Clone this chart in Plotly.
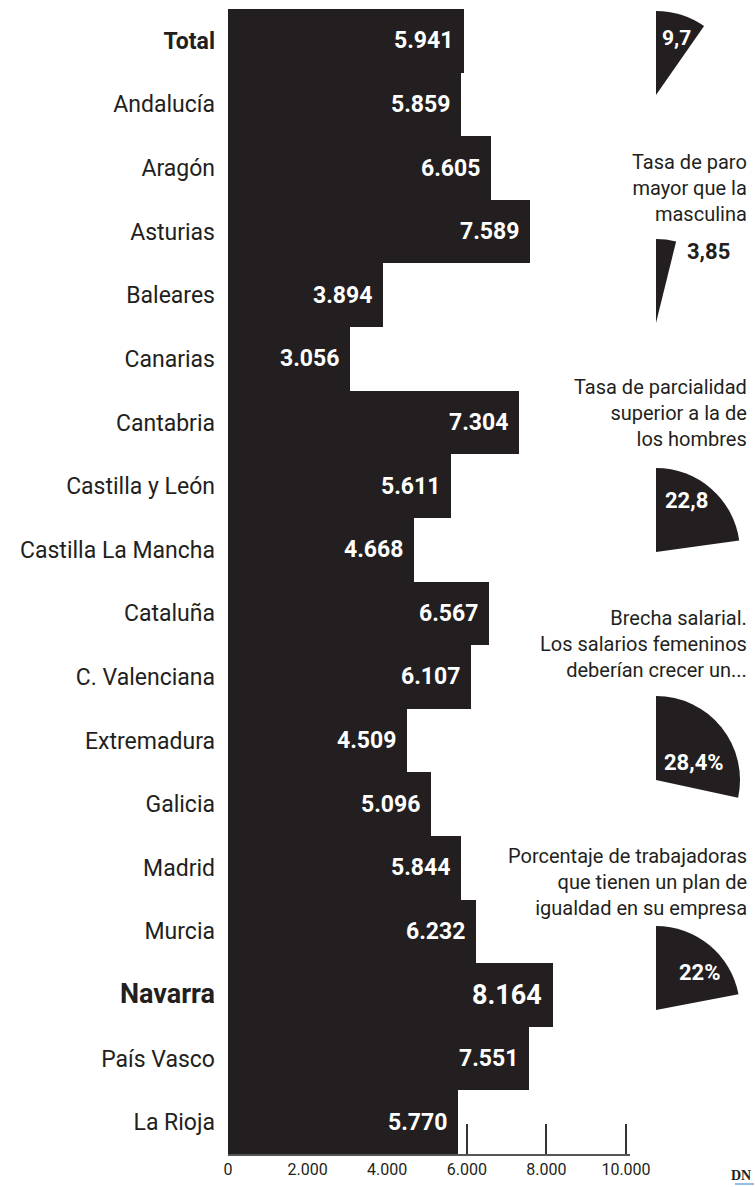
import plotly.graph_objects as go

# ---- data ----
categories = ["Total", "Andalucía", "Aragón", "Asturias", "Baleares", "Canarias",
              "Cantabria", "Castilla y León", "Castilla La Mancha", "Cataluña",
              "C. Valenciana", "Extremadura", "Galicia", "Madrid", "Murcia",
              "Navarra", "País Vasco", "La Rioja"]
values = [5941, 5859, 6605, 7589, 3894, 3056, 7304, 5611, 4668, 6567,
          6107, 4509, 5096, 5844, 6232, 8164, 7551, 5770]
x_ticks = [0, 2000, 4000, 6000, 8000, 10000]
x_ticktext = ["0", "2.000", "4.000", "6.000", "8.000", "10.000"]

pie_values = [9.7, 3.85, 22.8, 28.4, 22.0]
pie_labels = ["9,7", "3,85", "22,8", "28,4%", "22%"]
pie_titles = ["",
              "Tasa de paro<br>mayor que la<br>masculina",
              "Tasa de parcialidad<br>superior a la de<br>los hombres",
              "Brecha salarial.<br>Los salarios femeninos<br>deberían crecer un...",
              "Porcentaje de trabajadoras<br>que tienen un plan de<br>igualdad en su empresa"]

# ---- style / geometry ----
W, H = 755, 1187
INK = "#231f20"
FONT = "Roboto"
highlight = {"Total": 23, "Navarra": 27}

def px_x(p):
    return p / W

def px_y(p):
    return (H - p) / H

fig = go.Figure()

fig.add_trace(go.Bar(
    x=values, y=categories, orientation="h",
    marker=dict(color=INK, line=dict(width=0)),
    width=1.0, showlegend=False, hoverinfo="skip",
))

# value labels inside bars
annotations = []
for c, v in zip(categories, values):
    big = c == "Navarra"
    annotations.append(dict(
        x=v, y=c, xref="x", yref="y", xanchor="right", yanchor="middle",
        xshift=-9, showarrow=False,
        text="<b>" + f"{v:,}".replace(",", ".") + "</b>",
        font=dict(family=FONT, size=27 if big else 23, color="white"),
    ))

ticktext = []
for c in categories:
    if c in highlight:
        ticktext.append(f"<b><span style='font-size:{highlight[c]}px'>{c}</span></b>")
    else:
        ticktext.append(c)

# pie wedges
pie_centers_y = [95, 323, 552, 780, 1010]
pie_cx = 656
R = 84
for v, cy in zip(pie_values, pie_centers_y):
    fig.add_trace(go.Pie(
        values=[v, 100 - v], sort=False, direction="clockwise", rotation=0,
        marker=dict(colors=[INK, "rgba(0,0,0,0)"], line=dict(width=0)),
        textinfo="none", hoverinfo="skip", showlegend=False,
        domain=dict(x=[px_x(pie_cx - R), px_x(pie_cx + R)],
                    y=[px_y(cy + R), px_y(cy - R)]),
    ))

# pie labels
pie_label_pos = [(676, 38), (708, 252), (686, 500), (694, 762), (700, 973)]
pie_label_col = ["white", INK, "white", "white", "white"]
pie_label_size = [21, 22, 22, 22, 22]
for t, (lx, ly), col, sz in zip(pie_labels, pie_label_pos, pie_label_col, pie_label_size):
    annotations.append(dict(
        x=px_x(lx), y=px_y(ly), xref="paper", yref="paper",
        xanchor="center", yanchor="middle", showarrow=False,
        text=f"<b>{t}</b>", font=dict(family=FONT, size=sz, color=col),
    ))

# pie titles
title_mid_y = [None, 188, 413, 644, 882]
for t, my in zip(pie_titles, title_mid_y):
    if not t:
        continue
    annotations.append(dict(
        x=px_x(749), y=px_y(my), xref="paper", yref="paper",
        xanchor="right", yanchor="middle", align="right", showarrow=False,
        text=t, font=dict(family=FONT, size=20, color=INK),
    ))

# source mark
annotations.append(dict(
    x=px_x(753), y=px_y(1175), xref="paper", yref="paper",
    xanchor="right", yanchor="middle", showarrow=False,
    text="<b>DN</b>", font=dict(family="Liberation Serif", size=14, color=INK),
))

X_MAX = 10100
fig.update_layout(
    width=W, height=H, template="none",
    margin=dict(l=0, r=0, t=0, b=0),
    paper_bgcolor="white", plot_bgcolor="white",
    bargap=0, annotations=annotations,
    font=dict(family=FONT, color=INK),
    xaxis=dict(
        domain=[px_x(228), px_x(228 + 398 * X_MAX / 10000)], range=[0, X_MAX],
        tickvals=x_ticks, ticktext=x_ticktext,
        ticks="inside", ticklen=30, tickwidth=1.5, tickcolor="#333333",
        showline=True, linecolor="#555555", linewidth=1.5,
        showgrid=False, zeroline=False, layer="below traces",
        tickfont=dict(family=FONT, size=16, color=INK),
        automargin=False, fixedrange=True,
    ),
    yaxis=dict(
        domain=[px_y(1154), px_y(9)],
        tickvals=categories, ticktext=ticktext,
        autorange="reversed", ticks="", ticklabelstandoff=12,
        showline=False, showgrid=False, zeroline=False,
        tickfont=dict(family=FONT, size=23, color=INK),
        automargin=False, fixedrange=True,
    ),
    shapes=[dict(type="line", xref="paper", yref="paper",
                 x0=px_x(735), x1=px_x(754), y0=px_y(1184), y1=px_y(1184),
                 line=dict(color="#6fa8dc", width=1.5))],
)

fig.write_html(
    "out.html",
    config={"displayModeBar": False},
    post_script="document.body.style.margin='0';document.body.style.overflow='hidden';",
)
